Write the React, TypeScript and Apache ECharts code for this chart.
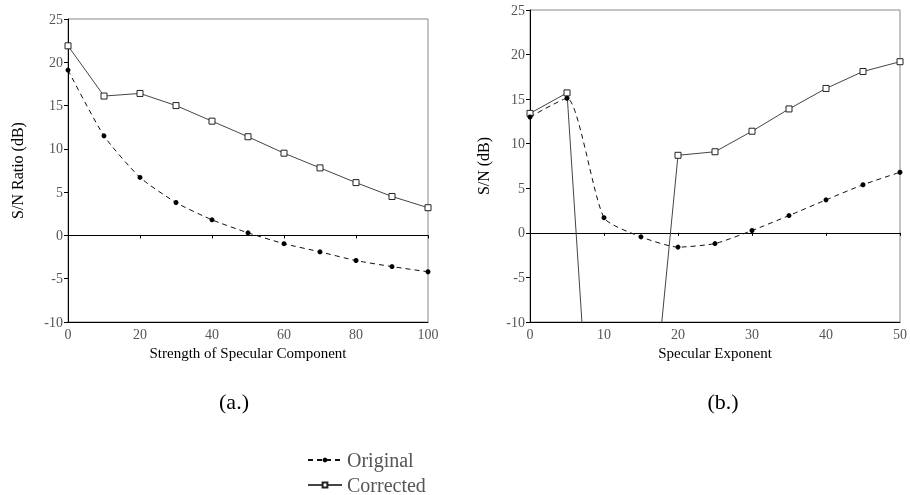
import React, { useEffect, useRef } from "react";
import * as echarts from "echarts";

const xA = [0, 10, 20, 30, 40, 50, 60, 70, 80, 90, 100];
const originalA = [19.1, 11.5, 6.7, 3.8, 1.8, 0.3, -0.95, -1.9, -2.9, -3.6, -4.2];
const correctedA = [21.9, 16.1, 16.4, 15.0, 13.2, 11.4, 9.5, 7.8, 6.1, 4.5, 3.2];

const xB = [0, 5, 10, 15, 20, 25, 30, 35, 40, 45, 50];
const originalB = [13.0, 15.1, 1.7, -0.45, -1.6, -1.2, 0.26, 1.94, 3.7, 5.4, 6.8];
const correctedB = [13.4, 15.7, -48, -34, 8.7, 9.1, 11.4, 13.9, 16.2, 18.1, 19.2];

const yTicks = { min: -10, max: 25, interval: 5 };

const FONT = "Liberation Serif";

export default function App() {
  const ref = useRef<HTMLDivElement>(null);
  useEffect(() => {
    if (!ref.current) return;
    const chart = echarts.init(ref.current, null, { renderer: "svg" });
    const pair = (xs: number[], ys: number[]) => xs.map((x, i) => [x, ys[i]]);
    const mainX = (max: number, interval: number, gridIndex: number) => ({
      type: "value",
      gridIndex,
      min: 0,
      max,
      interval,
      axisLine: { onZero: true, lineStyle: { color: "#000", width: 1 } },
      axisTick: { show: true, length: 3, inside: false, lineStyle: { color: "#000" } },
      axisLabel: { fontFamily: FONT, fontSize: 14, margin: 5 },
      splitLine: { show: false },
    });
    const bottomX = (max: number, gridIndex: number, name: string) => ({
      type: "value",
      gridIndex,
      min: 0,
      max,
      position: "bottom",
      axisLine: { onZero: false, lineStyle: { color: "#000", width: 1 } },
      axisTick: { show: false },
      axisLabel: { show: false },
      splitLine: { show: false },
      name,
      nameLocation: "middle",
      nameGap: 23,
      nameTextStyle: { fontFamily: FONT, fontSize: 15 },
    });
    const yAx = (gridIndex: number, name: string, gap: number) => ({
      type: "value",
      gridIndex,
      ...yTicks,
      axisLine: { show: true, onZero: false, lineStyle: { color: "#000", width: 1 } },
      axisTick: { show: true, length: 4, lineStyle: { color: "#000" } },
      axisLabel: { fontFamily: FONT, fontSize: 14, margin: 5 },
      splitLine: { show: false },
      name,
      nameLocation: "middle",
      nameGap: gap,
      nameTextStyle: { fontFamily: FONT, fontSize: 16 },
    });
    const origStyle = {
      type: "line",
      name: "Original",
      symbol: "circle",
      symbolSize: 5,
      itemStyle: { color: "#000" },
      lineStyle: { color: "#111", width: 1, type: [5, 4] },
      smooth: 0.2,
      clip: true,
      z: 3,
    };
    const corrStyle = {
      type: "line",
      name: "Corrected",
      symbol: "rect",
      symbolSize: 6,
      itemStyle: { color: "#fff", borderColor: "#222", borderWidth: 1 },
      lineStyle: { color: "#444", width: 1 },
      clip: true,
      z: 2,
    };
    chart.setOption({
      animation: false,
      grid: [
        { left: 68, top: 19, width: 360, height: 303, show: true, borderColor: "#888", borderWidth: 1 },
        { left: 530, top: 10, width: 374, height: 312, show: true, borderColor: "#888", borderWidth: 1 },
      ],
      xAxis: [
        mainX(100, 20, 0),
        bottomX(100, 0, "Strength of Specular Component"),
        mainX(50, 10, 1),
        bottomX(50, 1, "Specular Exponent"),
      ],
      yAxis: [yAx(0, "S/N Ratio (dB)", 43), yAx(1, "S/N (dB)", 39)],
      legend: {
        orient: "vertical",
        left: 302,
        top: 445,
        height: 50,
        itemWidth: 34,
        itemHeight: 6,
        itemGap: 5,
        textStyle: { fontFamily: FONT, fontSize: 20 },
        data: ["Original", "Corrected"],
      },
      graphic: [
        { type: "text", x: 234, y: 401, style: { text: "(a.)", fontFamily: FONT, fontSize: 22, fill: "#000", align: "center", verticalAlign: "middle" } },
        { type: "text", x: 723, y: 401, style: { text: "(b.)", fontFamily: FONT, fontSize: 22, fill: "#000", align: "center", verticalAlign: "middle" } },
      ],
      series: [
        { ...corrStyle, xAxisIndex: 0, yAxisIndex: 0, data: pair(xA, correctedA) },
        { ...origStyle, xAxisIndex: 0, yAxisIndex: 0, data: pair(xA, originalA) },
        { ...corrStyle, xAxisIndex: 2, yAxisIndex: 1, data: pair(xB, correctedB) },
        { ...origStyle, xAxisIndex: 2, yAxisIndex: 1, data: pair(xB, originalB) },
      ],
    });
    return () => chart.dispose();
  }, []);
  return <div ref={ref} style={{ position: "fixed", left: 0, top: 0, width: 910, height: 495 }} />;
}
